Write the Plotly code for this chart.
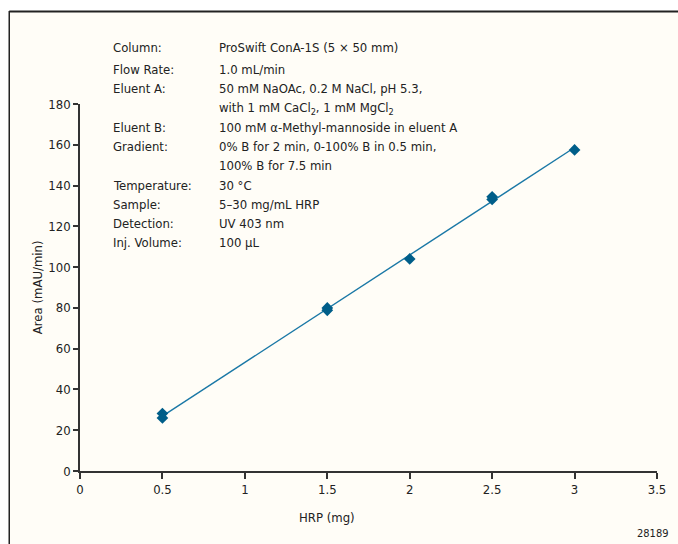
import numpy as np
import plotly.graph_objects as go

# Data
hrp_mg = [0.5, 0.5, 1.5, 1.5, 2.0, 2.5, 2.5, 3.0]
area = [28.2, 26.0, 80.0, 78.8, 104.0, 134.5, 133.2, 157.5]

x_ticks = [0, 0.5, 1, 1.5, 2, 2.5, 3, 3.5]
x_tick_labels = ["0", "0.5", "1", "1.5", "2", "2.5", "3", "3.5"]
y_ticks = [0, 20, 40, 60, 80, 100, 120, 140, 160, 180]

cond_labels = ["Column:", "Flow Rate:", "Eluent A:", "", "Eluent B:", "Gradient:", "",
               "Temperature:", "Sample:", "Detection:", "Inj. Volume:"]
cond_values = ["ProSwift ConA-1S (5 × 50 mm)", "1.0 mL/min",
               "50 mM NaOAc, 0.2 M NaCl, pH 5.3,",
               "with 1 mM CaCl<sub>2</sub>, 1 mM MgCl<sub>2</sub>",
               "100 mM α-Methyl-mannoside in eluent A",
               "0% B for 2 min, 0-100% B in 0.5 min,",
               "100% B for 7.5 min", "30 °C", "5–30 mg/mL HRP", "UV 403 nm", "100 µL"]

FONT = "DejaVu Sans Condensed, Liberation Sans Narrow, sans-serif"
FS = 13
MARK = "#005E89"
LINE = "#1A78A6"
AX = "#333333"
TXT = "#222222"
CREAM = "#FFFDF7"

# plot area in pixels
W, H = 678, 544
L, R, T, B = 80, 659, 104, 471
def px(x):
    return (x - L) / (R - L)
def py(y):
    return (B - y) / (B - T)

# regression line
slope, icpt = np.polyfit(hrp_mg, area, 1)
fit_x = [min(hrp_mg), max(hrp_mg)]
fit_y = [slope * v + icpt for v in fit_x]

fig = go.Figure()
fig.add_trace(go.Scatter(x=fit_x, y=fit_y, mode="lines",
                         line=dict(color=LINE, width=1.4), hoverinfo="skip"))
fig.add_trace(go.Scatter(x=hrp_mg, y=area, mode="markers",
                         marker=dict(symbol="diamond", size=9, color=MARK)))

shapes = [
    dict(type="rect", xref="paper", yref="paper", x0=px(9), x1=px(W + 5), y0=py(H + 5), y1=py(11),
         fillcolor=CREAM, line=dict(width=0), layer="below"),
    dict(type="line", xref="paper", yref="paper", x0=px(9), x1=px(W + 5), y0=py(11.5), y1=py(11.5),
         line=dict(color="#222222", width=2), layer="below"),
    dict(type="line", xref="paper", yref="paper", x0=px(9), x1=px(9), y0=py(11), y1=py(H + 5),
         line=dict(color="#222222", width=1.5), layer="below"),
]

annotations = []
row_y = [47, 69, 88, 108, 127, 146, 165, 185, 204, 223, 242]
for lab, val, yy in zip(cond_labels, cond_values, row_y):
    if lab:
        annotations.append(dict(xref="paper", yref="paper", x=px(111), y=py(yy), text=lab,
                                showarrow=False, xanchor="left", yanchor="middle",
                                font=dict(family=FONT, size=FS, color=TXT)))
    annotations.append(dict(xref="paper", yref="paper", x=px(217), y=py(yy), text=val,
                            showarrow=False, xanchor="left", yanchor="middle",
                            font=dict(family=FONT, size=FS, color=TXT)))

annotations.append(dict(xref="paper", yref="paper", x=px(328), y=py(517), text="HRP (mg)",
                        showarrow=False, xanchor="center", yanchor="middle",
                        font=dict(family=FONT, size=FS, color=TXT)))
annotations.append(dict(xref="paper", yref="paper", x=px(37), y=py(287), text="Area (mAU/min)",
                        textangle=-90, showarrow=False, xanchor="center", yanchor="middle",
                        font=dict(family=FONT, size=FS, color=TXT)))
annotations.append(dict(xref="paper", yref="paper", x=px(672), y=py(533), text="28189",
                        showarrow=False, xanchor="right", yanchor="middle",
                        font=dict(family=FONT, size=11, color=TXT)))

fig.update_layout(
    width=W, height=H,
    margin=dict(l=L, r=W - R, t=T, b=H - B, pad=0),
    paper_bgcolor="white", plot_bgcolor="rgba(0,0,0,0)",
    showlegend=False,
    shapes=shapes, annotations=annotations,
    font=dict(family=FONT, size=FS, color=TXT),
    xaxis=dict(range=[0, 3.5], tickvals=x_ticks, ticktext=x_tick_labels,
               showgrid=False, zeroline=False, showline=True, linecolor=AX, linewidth=1.5,
               ticks="outside", ticklen=6, tickwidth=1.5, tickcolor=AX,
               tickfont=dict(family=FONT, size=FS, color=TXT)),
    yaxis=dict(range=[0, 180], tickvals=y_ticks,
               showgrid=False, zeroline=False, showline=True, linecolor=AX, linewidth=1.5,
               ticks="outside", ticklen=5, tickwidth=1.5, tickcolor=AX,
               tickfont=dict(family=FONT, size=FS, color=TXT)),
)

fig.write_html("out.html")
